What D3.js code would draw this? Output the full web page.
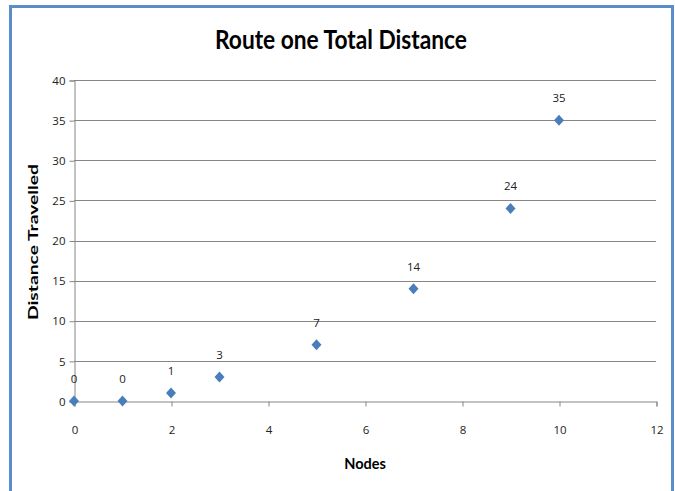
<!DOCTYPE html>
<html>
<head>
<meta charset="utf-8">
<script src="https://cdn.jsdelivr.net/npm/d3@7"></script>
<style>
  html, body { margin: 0; padding: 0; background: #fff; }
  svg { display: block; }
</style>
</head>
<body>
<svg id="chart" width="675" height="491"></svg>
<script>
// Route one: nodes visited vs. distance travelled
const nodes = [0, 1, 2, 3, 5, 7, 9, 10];
const distance = [0, 0, 1, 3, 7, 14, 24, 35];
const xTicks = [0, 2, 4, 6, 8, 10, 12];
const yTicks = [0, 5, 10, 15, 20, 25, 30, 35, 40];

const svg = d3.select("#chart");
const W = 675, H = 491;
const plot = { left: 74, right: 656, top: 80, bottom: 401 };
const axisColor = "#868686";
const markerColor = "#4a7ebb";
const labelFont = "'Open Sans', 'DejaVu Sans', sans-serif";

svg.append("rect").attr("width", W).attr("height", H).attr("fill", "#fff");

// chart frame (open at the bottom)
svg.append("path")
  .attr("d", `M10.5,${H + 5} L10.5,6.5 L672.5,6.5 L672.5,${H + 5}`)
  .attr("fill", "none")
  .attr("stroke", "#5b8ccc")
  .attr("stroke-width", 3);

const x = d3.scaleLinear().domain([0, 12]).range([plot.left, plot.right]);
const y = d3.scaleLinear().domain([0, 40]).range([plot.bottom, plot.top]);

// horizontal gridlines
svg.append("g")
  .selectAll("line")
  .data(yTicks.filter(v => v > 0))
  .join("line")
  .attr("x1", plot.left).attr("x2", plot.right)
  .attr("y1", d => Math.round(y(d)) + 0.5).attr("y2", d => Math.round(y(d)) + 0.5)
  .attr("stroke", axisColor).attr("stroke-width", 1);

// y axis
const yAxis = svg.append("g")
  .attr("transform", `translate(${plot.left + 0.5},0.5)`)
  .call(d3.axisLeft(y).tickValues(yTicks).tickSize(5).tickPadding(4).tickFormat(d3.format("d")));
yAxis.select(".domain").attr("stroke", axisColor);
yAxis.selectAll(".tick line").attr("stroke", axisColor);
yAxis.selectAll(".tick text")
  .attr("fill", "#222").attr("font-size", 11.5).attr("font-family", labelFont);

// x axis
const xAxis = svg.append("g")
  .attr("transform", `translate(0.5,${plot.bottom + 0.5})`)
  .call(d3.axisBottom(x).tickValues(xTicks).tickSize(5).tickPadding(19).tickFormat(d3.format("d")));
xAxis.select(".domain").attr("stroke", axisColor);
xAxis.selectAll(".tick line").attr("stroke", axisColor);
xAxis.selectAll(".tick text")
  .attr("fill", "#222").attr("font-size", 11.5).attr("font-family", labelFont);

// title and axis titles
svg.append("text")
  .attr("x", 341).attr("y", 49)
  .attr("text-anchor", "middle")
  .attr("font-family", "Lato, 'Open Sans', sans-serif")
  .attr("font-weight", "bold")
  .attr("font-size", 27)
  .attr("textLength", 252)
  .attr("lengthAdjust", "spacingAndGlyphs")
  .attr("fill", "#000")
  .text("Route one Total Distance");

svg.append("text")
  .attr("transform", `translate(38,242) rotate(-90)`)
  .attr("text-anchor", "middle")
  .attr("font-family", "Lato, 'Open Sans', sans-serif")
  .attr("font-weight", "bold")
  .attr("font-size", 13)
  .attr("textLength", 156)
  .attr("lengthAdjust", "spacingAndGlyphs")
  .attr("fill", "#000")
  .text("Distance Travelled");

svg.append("text")
  .attr("x", 365).attr("y", 469)
  .attr("text-anchor", "middle")
  .attr("font-family", "Lato, 'Open Sans', sans-serif")
  .attr("font-weight", "bold")
  .attr("font-size", 14.5)
  .attr("fill", "#000")
  .text("Nodes");

const points = nodes.map((n, i) => ({ n, d: distance[i] }));

// diamond markers
svg.append("g")
  .selectAll("path")
  .data(points)
  .join("path")
  .attr("transform", p => `translate(${x(p.n)},${y(p.d)})`)
  .attr("d", "M0,-5.5 L5,0 L0,5.5 L-5,0 Z")
  .attr("fill", markerColor);

// value labels
svg.append("g")
  .selectAll("text")
  .data(points)
  .join("text")
  .attr("x", p => x(p.n))
  .attr("y", p => y(p.d) - 18)
  .attr("text-anchor", "middle")
  .attr("font-family", labelFont)
  .attr("font-size", 11.5)
  .attr("fill", "#222")
  .text(p => p.d);
</script>
</body>
</html>
